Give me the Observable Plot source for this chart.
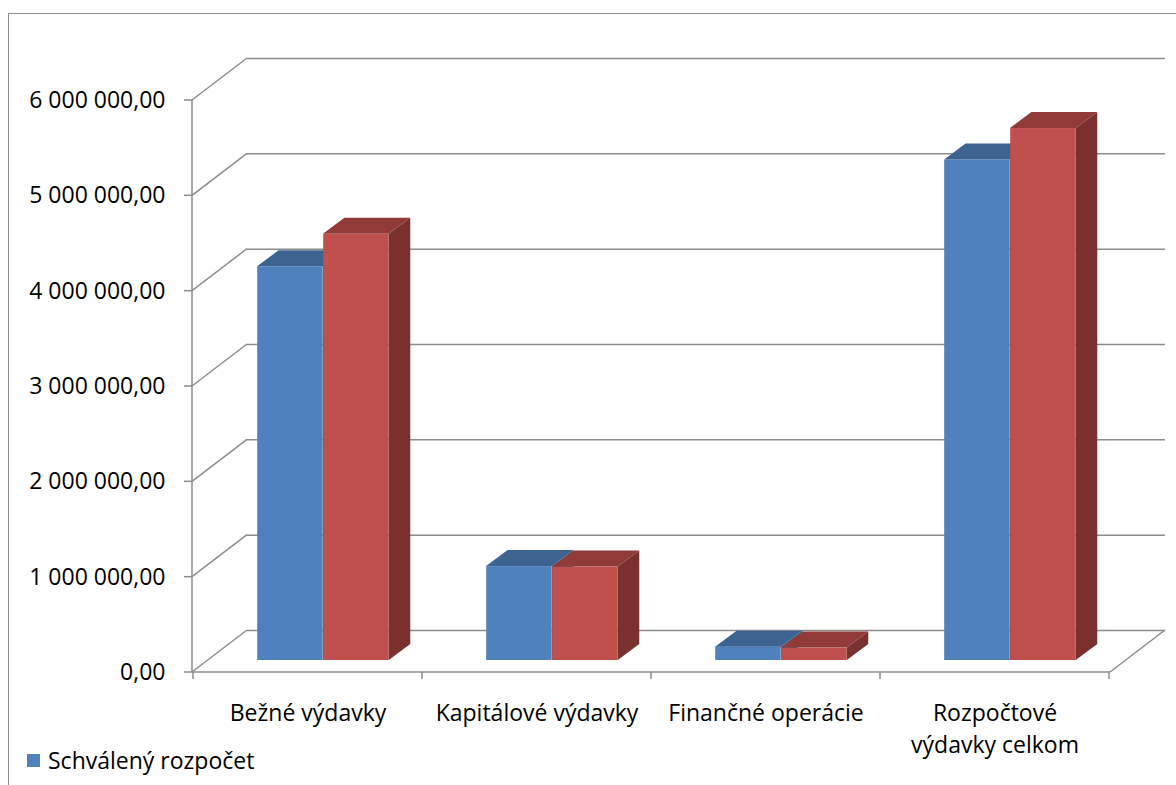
<!DOCTYPE html>
<html>
<head>
<meta charset="utf-8">
<script src="https://cdn.jsdelivr.net/npm/d3@7"></script>
<script src="https://cdn.jsdelivr.net/npm/@observablehq/plot@0.6"></script>
<style>
  body { margin: 0; background: #fff; font-family: "Open Sans", sans-serif; }
  #wrap { position: relative; width: 1176px; height: 785px; overflow: hidden; background: #fff; }
  #frame { position: absolute; left: 8px; top: 13px; width: 1300px; height: 900px;
           border-left: 1.5px solid #8c8c8c; border-top: 1.5px solid #8c8c8c; }
  #chart { position: absolute; left: 0; top: 0; }
  #legend { position: absolute; left: 27px; top: 744px; height: 32px; display: flex; align-items: center;
            font-size: 23px; line-height: 32px; color: #000; }
  #legend .sw { width: 13px; height: 13px; background: #4F81BD; margin-right: 8px; }
</style>
</head>
<body>
<div id="wrap">
  <div id="frame"></div>
  <div id="chart"></div>
  <div id="legend"><span class="sw"></span><span>Schválený rozpočet</span></div>
</div>
<script>
// ---- data ----
const categories = ["Bežné výdavky", "Kapitálové výdavky", "Finančné operácie", "Rozpočtové\nvýdavky celkom"];
const seriesNames = ["Schválený rozpočet", "Upravený rozpočet"];
const schvaleny = [4130000, 985000, 140000, 5250000];
const upraveny  = [4470000, 980000, 130000, 5580000];
const yTicks = [0, 1000000, 2000000, 3000000, 4000000, 5000000, 6000000];

// ---- style / geometry constants ----
const W = 1176, H = 740, ML = 192, MR = 66, MT = 100, MB = 68;
const GRID = "#8c8c8c";
const WALL_DX = 55, WALL_DY = -42;      // depth of the back wall
const BAR_DX = 16, BAR_DY = -12;        // bars stand a bit into the floor
const DEP_DX = 21.5, DEP_DY = -16;      // bar depth
const GAP = 0.21, BARW = 0.2875;        // fractions of band width
const BW = (W - ML - MR) / categories.length;

const series = [
  {name: seriesNames[0], values: schvaleny, front: "#4F81BD", top: "#3D6491", side: "#385D8A"},
  {name: seriesNames[1], values: upraveny,  front: "#C0504D", top: "#913B39", side: "#7A302E"}
];

const fmtLocale = d3.formatLocale({decimal: ",", thousands: " ", grouping: [3], currency: ["", ""]});
const fmt = fmtLocale.format(",.2f");

// walls, axis lines and ticks
function walls(index, scales, values, dims) {
  const x = scales.x, y = scales.y;
  const bw = x.bandwidth ? x.bandwidth() : BW;
  const left = dims.marginLeft, right = dims.width - dims.marginRight;
  const g = d3.create("svg:g").attr("stroke", GRID).attr("stroke-width", 1.5).attr("fill", "none");
  for (const v of yTicks) {
    g.append("path").attr("d", `M${left},${y(v)}L${left + WALL_DX},${y(v) + WALL_DY}`);
    g.append("path").attr("d", `M${left - 8},${y(v)}L${left},${y(v)}`);
  }
  g.append("path").attr("d", `M${right},${y(0)}L${right + WALL_DX},${y(0) + WALL_DY}`);
  g.append("path").attr("d", `M${left},${y(0)}L${left},${y(yTicks[yTicks.length - 1])}`);
  g.append("path").attr("d", `M${left},${y(0)}L${right},${y(0)}`);
  const edges = categories.map(c => x(c)).concat([x(categories[categories.length - 1]) + bw]);
  for (const e of edges) g.append("path").attr("d", `M${e},${y(0)}L${e},${y(0) + 7}`);
  return g.node();
}

// top and side faces of the 3D bars
function faces(s, i) {
  return (index, scales) => {
    const x = scales.x, y = scales.y;
    const bw = x.bandwidth ? x.bandwidth() : BW;
    const g = d3.create("svg:g");
    categories.forEach((c, k) => {
      const x1 = x(c) + bw * GAP + i * bw * BARW + BAR_DX;
      const x2 = x1 + bw * BARW;
      const yt = y(s.values[k]) + BAR_DY;
      const y0 = y(0) + BAR_DY;
      g.append("path")
        .attr("d", `M${x2},${yt}L${x2 + DEP_DX},${yt + DEP_DY}L${x2 + DEP_DX},${y0 + DEP_DY}L${x2},${y0}Z`)
        .attr("fill", s.side);
      g.append("path")
        .attr("d", `M${x1},${yt}L${x2},${yt}L${x2 + DEP_DX},${yt + DEP_DY}L${x1 + DEP_DX},${yt + DEP_DY}Z`)
        .attr("fill", s.top);
    });
    return g.node();
  };
}

const barMarks = [];
series.forEach((s, i) => {
  const rows = categories.map((c, k) => ({category: c, value: s.values[k]}));
  barMarks.push(Plot.barY(rows, {
    x: "category", y: "value", fill: s.front,
    insetLeft: BW * GAP + i * BW * BARW,
    insetRight: BW - (BW * GAP + (i + 1) * BW * BARW),
    dx: BAR_DX, dy: BAR_DY
  }));
  barMarks.push(faces(s, i));
});

const chart = Plot.plot({
  width: W, height: H,
  marginLeft: ML, marginRight: MR, marginTop: MT, marginBottom: MB,
  style: {fontFamily: "'Open Sans', sans-serif", fontSize: "23px", color: "#000", background: "transparent", overflow: "visible"},
  x: {domain: categories, padding: 0, label: null},
  y: {domain: [0, 6000000], label: null},
  marks: [
    walls,
    Plot.ruleY(yTicks, {dx: WALL_DX, dy: WALL_DY, stroke: GRID, strokeWidth: 1.5}),
    ...barMarks,
    Plot.axisY({ticks: yTicks, tickFormat: fmt, tickSize: 0, tickPadding: 27, fill: "#000", fontSize: 23, label: null}),
    Plot.axisX({tickSize: 0, tickPadding: 26, lineHeight: 1.38, fill: "#000", fontSize: 23, label: null})
  ]
});
document.getElementById("chart").appendChild(chart);
</script>
</body>
</html>
